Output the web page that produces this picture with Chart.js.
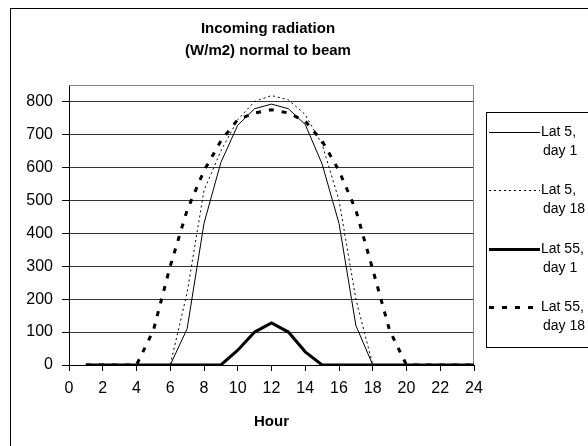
<!DOCTYPE html>
<html>
<head>
<meta charset="utf-8">
<script src="https://cdn.jsdelivr.net/npm/chart.js@4/dist/chart.umd.min.js"></script>
<style>
  html, body { margin: 0; padding: 0; background: #fff; }
  canvas { display: block; }
</style>
</head>
<body>
<canvas id="myChart" width="588" height="446"></canvas>
<script>
const hours = [1, 2, 3, 4, 5, 6, 7, 8, 9, 10, 11, 12, 13, 14, 15, 16, 17, 18, 19, 20, 21, 22, 23, 24];
const lat5Day1 = [0, 0, 0, 0, 0, 0, 110, 430, 615, 728, 778, 792, 778, 730, 610, 430, 120, 0, 0, 0, 0, 0, 0, 0];
const lat5Day18 = [0, 0, 0, 0, 0, 0, 220, 530, 650, 745, 800, 818, 805, 760, 670, 500, 200, 0, 0, 0, 0, 0, 0, 0];
const lat55Day1 = [0, 0, 0, 0, 0, 0, 0, 0, 0, 45, 100, 128, 100, 40, 0, 0, 0, 0, 0, 0, 0, 0, 0, 0];
const lat55Day18 = [0, 0, 0, 0, 105, 300, 470, 590, 680, 745, 765, 775, 765, 740, 680, 590, 470, 290, 105, 0, 0, 0, 0, 0];
const yTicks = [0, 100, 200, 300, 400, 500, 600, 700, 800];
const seriesNames = [["Lat 5,", "day 1"], ["Lat 5,", "day 18"], ["Lat 55,", "day 1"], ["Lat 55,", "day 18"]];
const titleLines = ["Incoming radiation", "(W/m2) normal to beam"];

const FONT = "'Liberation Sans', Arial, sans-serif";

function pts(values) {
    return hours.map((h, i) => ({ x: h, y: values[i] }));
}

// frame, title, plot border and the legend box
const decor = {
    id: 'decor',
    beforeDraw(chart) {
        const c = chart.ctx;
        c.save();
        c.fillStyle = '#fff';
        c.fillRect(0, 0, chart.width, chart.height);
        c.strokeStyle = '#000';
        c.lineWidth = 1;
        c.strokeRect(10.5, 8.5, 620, 460);
        c.fillStyle = '#000';
        c.font = 'bold 15px ' + FONT;
        c.textAlign = 'center';
        c.textBaseline = 'middle';
        c.fillText(titleLines[0], 268, 29);
        c.fillText(titleLines[1], 268, 51);
        c.restore();
    },
    beforeDatasetsDraw(chart) {
        const a = chart.chartArea;
        const c = chart.ctx;
        c.save();
        c.strokeStyle = '#808080';
        c.lineWidth = 1;
        c.beginPath();
        c.moveTo(a.left, a.top + 0.5);
        c.lineTo(a.right - 0.5, a.top + 0.5);
        c.lineTo(a.right - 0.5, a.bottom);
        c.stroke();
        c.restore();
    },
    afterDraw(chart) {
        const c = chart.ctx;
        c.save();
        c.strokeStyle = '#000';
        c.lineWidth = 1;
        c.strokeRect(486.5, 112.5, 200, 235);
        c.font = '14px ' + FONT;
        c.fillStyle = '#000';
        c.textAlign = 'left';
        c.textBaseline = 'middle';
        chart.data.datasets.forEach((ds, i) => {
            const y = Math.round(132 + i * 58.3) + 0.5;
            c.strokeStyle = ds.borderColor;
            c.lineWidth = ds.borderWidth;
            c.setLineDash(ds.borderDash || []);
            c.beginPath();
            c.moveTo(489, y);
            c.lineTo(540, y);
            c.stroke();
            c.fillText(seriesNames[i][0], 541, y);
            c.fillText(seriesNames[i][1], 543, y + 19);
        });
        c.restore();
    }
};

new Chart(document.getElementById('myChart'), {
    type: 'line',
    data: {
        datasets: [
            { label: 'Lat 5, day 1', data: pts(lat5Day1), borderColor: '#000', borderWidth: 1 },
            { label: 'Lat 5, day 18', data: pts(lat5Day18), borderColor: '#000', borderWidth: 1, borderDash: [2, 3] },
            { label: 'Lat 55, day 1', data: pts(lat55Day1), borderColor: '#000', borderWidth: 3 },
            { label: 'Lat 55, day 18', data: pts(lat55Day18), borderColor: '#000', borderWidth: 3, borderDash: [5, 8] }
        ]
    },
    options: {
        responsive: false,
        animation: false,
        devicePixelRatio: 1,
        elements: {
            point: { radius: 0 },
            line: { tension: 0, fill: false }
        },
        layout: { padding: { top: 85, right: 114, bottom: 0, left: 0 } },
        plugins: {
            legend: { display: false },
            title: { display: false },
            tooltip: { enabled: false }
        },
        scales: {
            x: {
                type: 'linear',
                min: 0,
                max: 24,
                afterFit: s => { s.height = 81; },
                ticks: {
                    stepSize: 2,
                    maxRotation: 0,
                    autoSkip: false,
                    padding: 8,
                    color: '#000',
                    font: { family: FONT, size: 16 }
                },
                grid: { drawOnChartArea: false, tickLength: 6, tickColor: '#000' },
                border: { color: '#000', width: 1 },
                title: {
                    display: true,
                    text: 'Hour',
                    color: '#000',
                    font: { family: FONT, size: 15, weight: 'bold' },
                    padding: { top: 0, bottom: 15 }
                }
            },
            y: {
                min: 0,
                max: 850,
                afterFit: s => { s.width = 69; },
                afterBuildTicks: s => { s.ticks = yTicks.map(v => ({ value: v })); },
                ticks: {
                    padding: 9,
                    color: '#000',
                    font: { family: FONT, size: 16 }
                },
                grid: { color: '#333', tickLength: 7, tickColor: '#000' },
                border: { color: '#000', width: 1 }
            }
        }
    },
    plugins: [decor]
});
</script>
</body>
</html>
